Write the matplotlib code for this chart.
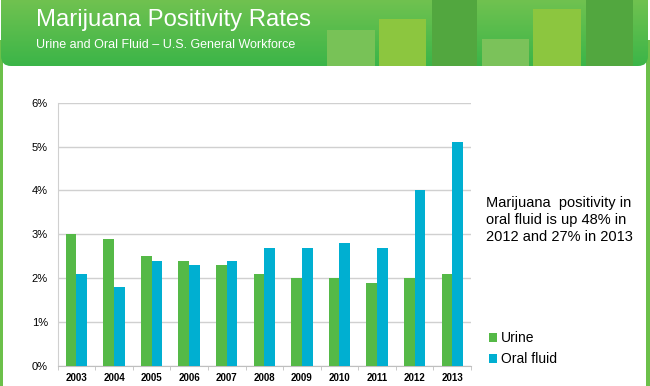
import numpy as np
import matplotlib
matplotlib.use("Agg")
import matplotlib.pyplot as plt
from matplotlib.patches import Rectangle, FancyBboxPatch
from matplotlib.ticker import FuncFormatter, FixedLocator

plt.rcParams['font.family'] = ['Liberation Sans', 'DejaVu Sans']

years = ['2003', '2004', '2005', '2006', '2007', '2008', '2009', '2010', '2011', '2012', '2013']
urine = [3.0, 2.9, 2.5, 2.4, 2.3, 2.1, 2.0, 2.0, 1.9, 2.0, 2.1]
oral_fluid = [2.1, 1.8, 2.4, 2.3, 2.4, 2.7, 2.7, 2.8, 2.7, 4.0, 5.1]

GREEN = '#55b947'
BLUE = '#00afd1'

fig = plt.figure(figsize=(6.5, 3.86), dpi=100)

# background / header in pixel coords
bg = fig.add_axes([0, 0, 1, 1])
bg.set_xlim(0, 650)
bg.set_ylim(386, 0)
bg.axis('off')

# side borders
bg.add_patch(Rectangle((0, 40), 3, 346, color='#6cc04a', lw=0))
bg.add_patch(Rectangle((646, 40), 4, 346, color='#6cc04a', lw=0))

banner = FancyBboxPatch((1, -20), 647, 86, boxstyle="round,pad=0,rounding_size=10",
                        facecolor='none', edgecolor='none')
bg.add_patch(banner)
grad = np.linspace(0, 1, 100).reshape(-1, 1)
top = np.array([0x70, 0xc2, 0x50]) / 255
bot = np.array([0x3b, 0xb5, 0x48]) / 255
img = top[None, None, :] * (1 - grad[:, :, None]) + bot[None, None, :] * grad[:, :, None]
im = bg.imshow(img, extent=(1, 648, 66, 0), aspect='auto', zorder=1)
im.set_clip_path(banner)

deco = [(327, 30, 48, '#78c257'), (379, 19, 47, '#8cc63f'), (432, 0, 45, '#52a73f'),
        (482, 39, 47, '#7bc25a'), (533, 9, 48, '#8cc63f'), (586, 0, 47, '#52a73f')]
for x0, y0, w, c in deco:
    r = Rectangle((x0, y0), w, 66 - y0, color=c, lw=0, zorder=2)
    bg.add_patch(r)
    r.set_clip_path(banner)

bg.text(36, 26, 'Marijuana Positivity Rates', color='white', fontsize=17.2,
        va='baseline', ha='left', zorder=3)
bg.text(36, 48.5, 'Urine and Oral Fluid \u2013 U.S. General Workforce', color='white',
        fontsize=9, va='baseline', ha='left', zorder=3)

# chart
ax = fig.add_axes([57.7 / 650, 1 - 366 / 386, (471 - 57.7) / 650, (366 - 102.7) / 386])
x = np.arange(len(years))
w = 0.285
ax.bar(x - w / 2, urine, w, color=GREEN, label='Urine', zorder=3)
ax.bar(x + w / 2, oral_fluid, w, color=BLUE, label='Oral fluid', zorder=3)

ax.set_xlim(-0.5, len(years) - 0.5)
ax.set_ylim(0, 6)
ax.set_yticks(range(0, 7))
ax.yaxis.set_major_formatter(FuncFormatter(lambda v, p: f'{int(v)}%'))
ax.grid(axis='y', color='#d0d0d0', lw=1, zorder=0)
ax.set_xticks(x)
ax.set_xticklabels(years, fontsize=7, fontweight='bold')
ax.xaxis.set_minor_locator(FixedLocator(np.arange(-0.5, len(years), 1)))
ax.tick_params(axis='x', which='major', length=0, pad=5)
ax.tick_params(axis='x', which='minor', length=3, color='#bfbfbf')
ax.tick_params(axis='y', length=0, labelsize=8, pad=7)
for s in ['top', 'right']:
    ax.spines[s].set_visible(False)
ax.spines['left'].set_color('#d0d0d0')
ax.spines['bottom'].set_color('#bfbfbf')

fig.text(486 / 650, 1 - 220 / 386,
         'Marijuana  positivity in\noral fluid is up 48% in\n2012 and 27% in 2013',
         fontsize=10.5, va='center', ha='left', linespacing=1.25)

fig.legend(loc='lower left', bbox_to_anchor=(483 / 650, 1 - 372 / 386), frameon=False,
           fontsize=10, handlelength=0.6, handleheight=0.6, handletextpad=0.3,
           labelspacing=0.5, borderaxespad=0)

fig.savefig('out.png', dpi=100)
